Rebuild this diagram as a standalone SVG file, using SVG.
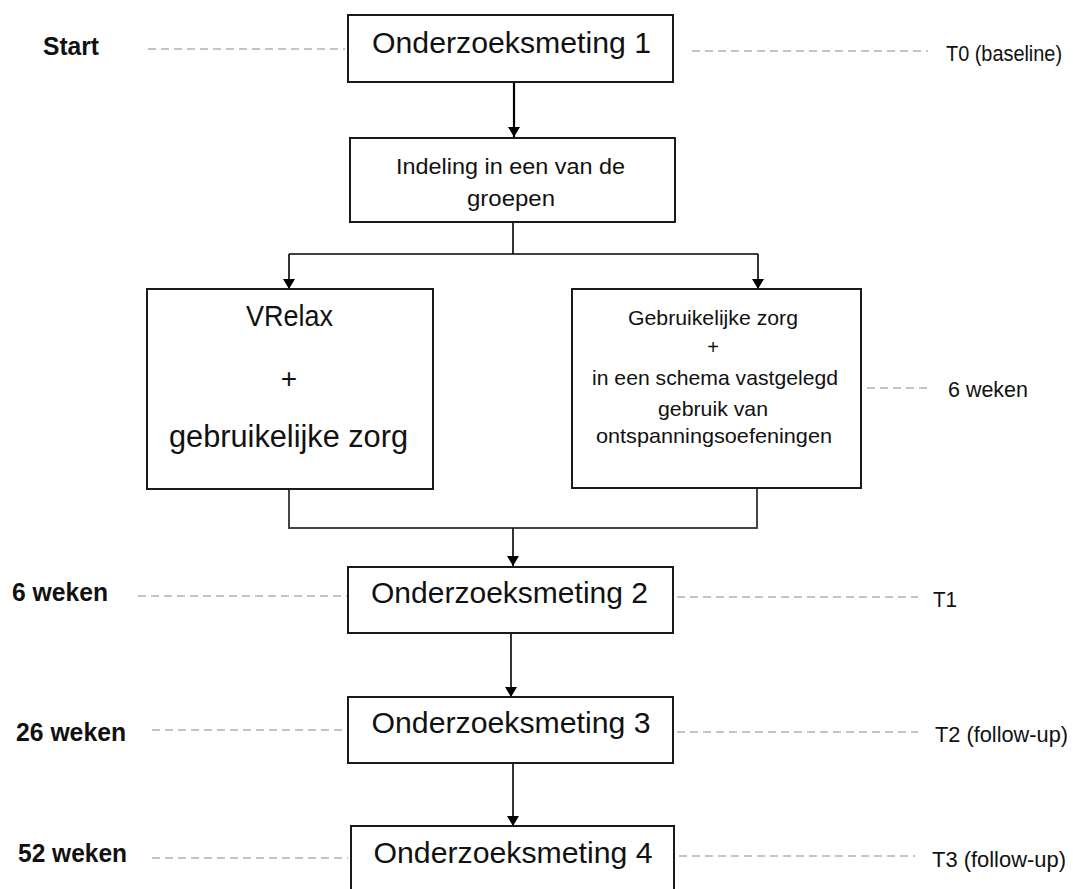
<svg xmlns="http://www.w3.org/2000/svg" width="1073" height="889" viewBox="0 0 1073 889">
<defs>
<marker id="arr" viewBox="0 0 10 12" refX="10" refY="6" markerWidth="10" markerHeight="12" markerUnits="userSpaceOnUse" orient="auto">
<path d="M0,0 L10,6 L0,12 Z" fill="#000"/>
</marker>
<style>
.box{fill:#fff;stroke:#1a1a1a;stroke-width:2}
.t{font-family:"Liberation Sans",Arial,sans-serif;fill:#111;text-anchor:middle}
.lb{font-family:"Liberation Sans",Arial,sans-serif;fill:#111;font-weight:bold;font-size:25px}
.rl{font-family:"Liberation Sans",Arial,sans-serif;fill:#111;font-size:22px}
.dash{stroke:#c4c4c4;stroke-width:2;stroke-dasharray:8 5;fill:none}
.con{stroke:#000;stroke-width:1.6;fill:none}
.mer{stroke:#444;stroke-width:2;fill:none}
</style>
</defs>
<rect width="1073" height="889" fill="#fff"/>

<g id="connectors">
<line class="con" x1="514" y1="83" x2="514" y2="137" marker-end="url(#arr)" style="stroke-width:2.2"/>
<polyline class="con" points="513,222 513,254"/>
<line class="con" x1="289" y1="254" x2="758" y2="254"/>
<line class="con" x1="289" y1="254" x2="289" y2="289" marker-end="url(#arr)"/>
<line class="con" x1="758" y1="254" x2="758" y2="289" marker-end="url(#arr)"/>
<polyline class="mer" points="289,489 289,528 757,528 757,489"/>
<line class="con" x1="513" y1="528" x2="513" y2="566" marker-end="url(#arr)"/>
<line class="con" x1="511" y1="633" x2="511" y2="697" marker-end="url(#arr)"/>
<line class="con" x1="513" y1="763" x2="513" y2="826" marker-end="url(#arr)"/>
</g>

<g id="timeline">
<line class="dash" x1="148" y1="49" x2="345" y2="49"/>
<line class="dash" x1="692" y1="51" x2="928" y2="51"/>
<line class="dash" x1="867" y1="388" x2="928" y2="388"/>
<line class="dash" x1="138" y1="596" x2="347" y2="596"/>
<line class="dash" x1="677" y1="597" x2="918" y2="597"/>
<line class="dash" x1="152" y1="730" x2="347" y2="730"/>
<line class="dash" x1="677" y1="732" x2="918" y2="732"/>
<line class="dash" x1="152" y1="858" x2="348" y2="858"/>
<line class="dash" x1="679" y1="856" x2="915" y2="856"/>
<text class="lb" x="43" y="55" textLength="56" lengthAdjust="spacingAndGlyphs">Start</text>
<text class="lb" x="12" y="601" textLength="96" lengthAdjust="spacingAndGlyphs">6 weken</text>
<text class="lb" x="16" y="741" textLength="110" lengthAdjust="spacingAndGlyphs">26 weken</text>
<text class="lb" x="18" y="862" textLength="109" lengthAdjust="spacingAndGlyphs">52 weken</text>
<text class="rl" x="946" y="61" font-size="21" textLength="116" lengthAdjust="spacingAndGlyphs">T0 (baseline)</text>
<text class="rl" x="948" y="397" textLength="80" lengthAdjust="spacingAndGlyphs">6 weken</text>
<text class="rl" x="933" y="607" textLength="24" lengthAdjust="spacingAndGlyphs">T1</text>
<text class="rl" x="935" y="742" textLength="133" lengthAdjust="spacingAndGlyphs">T2 (follow-up)</text>
<text class="rl" x="932" y="867" textLength="134" lengthAdjust="spacingAndGlyphs">T3 (follow-up)</text>
</g>

<g id="meting1">
<rect class="box" x="348" y="15" width="325" height="67"/>
<text class="t" x="511.5" y="53" font-size="30" textLength="279" lengthAdjust="spacingAndGlyphs">Onderzoeksmeting 1</text>
</g>

<g id="indeling">
<rect class="box" x="350" y="138" width="325" height="84"/>
<text class="t" x="510.5" y="174" font-size="22" textLength="229" lengthAdjust="spacingAndGlyphs">Indeling in een van de</text>
<text class="t" x="511" y="206" font-size="22" textLength="88" lengthAdjust="spacingAndGlyphs">groepen</text>
</g>

<g id="vrelax">
<rect class="box" x="147" y="289" width="286" height="200"/>
<text class="t" x="289.5" y="326" font-size="30" textLength="87" lengthAdjust="spacingAndGlyphs">VRelax</text>
<text class="t" x="289" y="388" font-size="28">+</text>
<text class="t" x="288.5" y="447" font-size="31" textLength="239" lengthAdjust="spacingAndGlyphs">gebruikelijke zorg</text>
</g>

<g id="gebruikelijk">
<rect class="box" x="572" y="289" width="289" height="199"/>
<text class="t" x="713" y="325" font-size="21" textLength="170" lengthAdjust="spacingAndGlyphs">Gebruikelijke zorg</text>
<text class="t" x="713" y="354" font-size="20">+</text>
<text class="t" x="715" y="385" font-size="21" textLength="246" lengthAdjust="spacingAndGlyphs">in een schema vastgelegd</text>
<text class="t" x="713" y="416" font-size="21" textLength="110" lengthAdjust="spacingAndGlyphs">gebruik van</text>
<text class="t" x="714" y="443" font-size="21" textLength="236" lengthAdjust="spacingAndGlyphs">ontspanningsoefeningen</text>
</g>

<g id="meting2">
<rect class="box" x="348" y="567" width="325" height="66"/>
<text class="t" x="509.5" y="603" font-size="30" textLength="277" lengthAdjust="spacingAndGlyphs">Onderzoeksmeting 2</text>
</g>

<g id="meting3">
<rect class="box" x="348" y="697" width="325" height="66"/>
<text class="t" x="511" y="733" font-size="30" textLength="279" lengthAdjust="spacingAndGlyphs">Onderzoeksmeting 3</text>
</g>

<g id="meting4">
<rect class="box" x="351" y="826" width="323" height="80"/>
<text class="t" x="513" y="863" font-size="30" textLength="279" lengthAdjust="spacingAndGlyphs">Onderzoeksmeting 4</text>
</g>
</svg>
